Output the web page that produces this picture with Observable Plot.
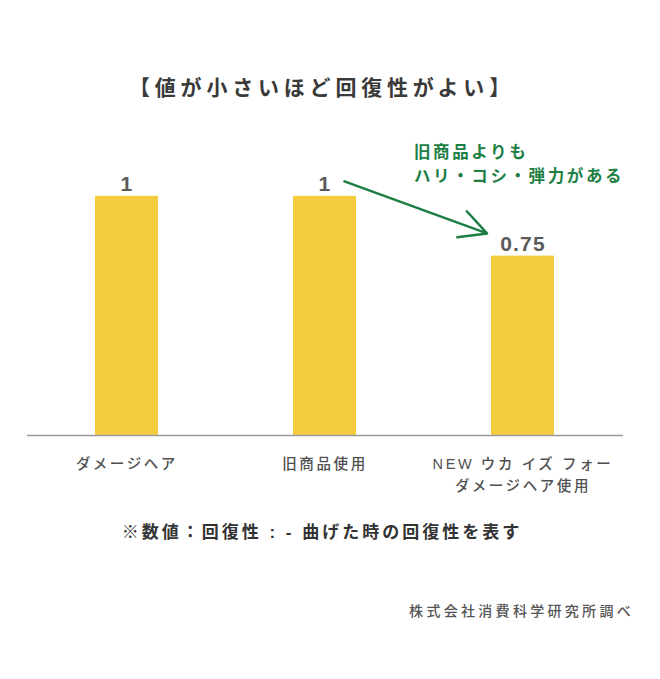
<!DOCTYPE html>
<html><head><meta charset="utf-8">
<script src="https://cdn.jsdelivr.net/npm/d3@7"></script>
<script src="https://cdn.jsdelivr.net/npm/@observablehq/plot@0.6"></script>
<style>
body{margin:0;background:#fff;font-family:"Liberation Sans","Noto Sans CJK JP",sans-serif;}
#wrap{width:660px;}
.title{height:120px;box-sizing:border-box;padding-top:76px;line-height:24px;font-size:21px;font-weight:700;color:#3a3a3a;text-align:center;letter-spacing:4.8px;padding-right:16px;}
.note{height:66px;box-sizing:border-box;padding-top:21px;line-height:24px;font-size:17px;font-weight:700;color:#333;text-align:center;letter-spacing:3px;padding-right:16px;}
.source{box-sizing:border-box;padding-top:33px;line-height:24px;font-size:14px;font-weight:500;color:#555;text-align:right;letter-spacing:3.3px;padding-right:26px;}
svg text{letter-spacing:2.6px;}
</style>
</head><body>
<div id="wrap">
  <div class="title" id="title"></div>
  <div id="chart"></div>
  <div class="note" id="note"></div>
  <div class="source" id="source"></div>
</div>
<script>
const titleText = "【値が小さいほど回復性がよい】";
const noteText = "※数値：回復性 : - 曲げた時の回復性を表す";
const sourceText = "株式会社消費科学研究所調べ";

const categories = ["ダメージヘア", "旧商品使用", "NEW ウカ イズ フォー\nダメージヘア使用"];
const values = [1, 1, 0.75];
const valueLabels = ["1", "1", "0.75"];

const annotationLines = ["旧商品よりも", "ハリ・コシ・弾力がある"];
const annotationValues = [1.184, 1.084];
const arrowFromValue = 1.0925;
const arrowToValue = 0.79;

document.getElementById("title").textContent = titleText;
document.getElementById("note").textContent = noteText;
document.getElementById("source").textContent = sourceText;

const data = categories.map((c, i) => ({category: c, value: values[i], label: valueLabels[i]}));
const notes = annotationLines.map((t, i) => ({category: categories[2], value: annotationValues[i], text: t}));
const arrows = [{x1: categories[1], y1: arrowFromValue, x2: categories[2], y2: arrowToValue}];

const chart = Plot.plot({
  width: 660,
  height: 380,
  marginTop: 28,
  marginBottom: 65,
  marginLeft: 27,
  marginRight: 37,
  x: {domain: categories, paddingInner: 0.68, paddingOuter: 0.34, label: null},
  y: {domain: [0, 1.2], axis: null},
  style: {fontFamily: "'Liberation Sans','Noto Sans CJK JP',sans-serif", fontSize: "14px", color: "#555", background: "#fff", overflow: "visible"},
  marks: [
    Plot.barY(data, {x: "category", y: "value", fill: "#F4CD3E"}),
    Plot.ruleY([0], {stroke: "#9a9a9a", strokeWidth: 1.5}),
    Plot.axisX({tickSize: 0, tickPadding: 17, lineHeight: 1.57, fontSize: 14.5, fontWeight: 500, fill: "#505050", label: null}),
    Plot.text(data, {x: "category", y: "value", text: "label", lineAnchor: "bottom", dy: -5, fontSize: 21, fontWeight: 700, fill: "#5b5b5b"}),
    Plot.text(notes, {x: "category", y: "value", text: "text", textAnchor: "start", dx: -109, fontSize: 16.5, fontWeight: 700, fill: "#1E7F45"}),
    Plot.arrow(arrows, {x1: "x1", y1: "y1", x2: "x2", y2: "y2", stroke: "#1E7F45", strokeWidth: 2.5, headLength: 18, headAngle: 55, insetStart: 20.7, insetEnd: 38.3, bend: 0})
  ]
});
d3.select(chart).selectAll("g[aria-label='text']").filter((d, i) => i === 0).selectAll("text").style("letter-spacing", "1.2px");
document.getElementById("chart").appendChild(chart);
</script>
</body></html>
